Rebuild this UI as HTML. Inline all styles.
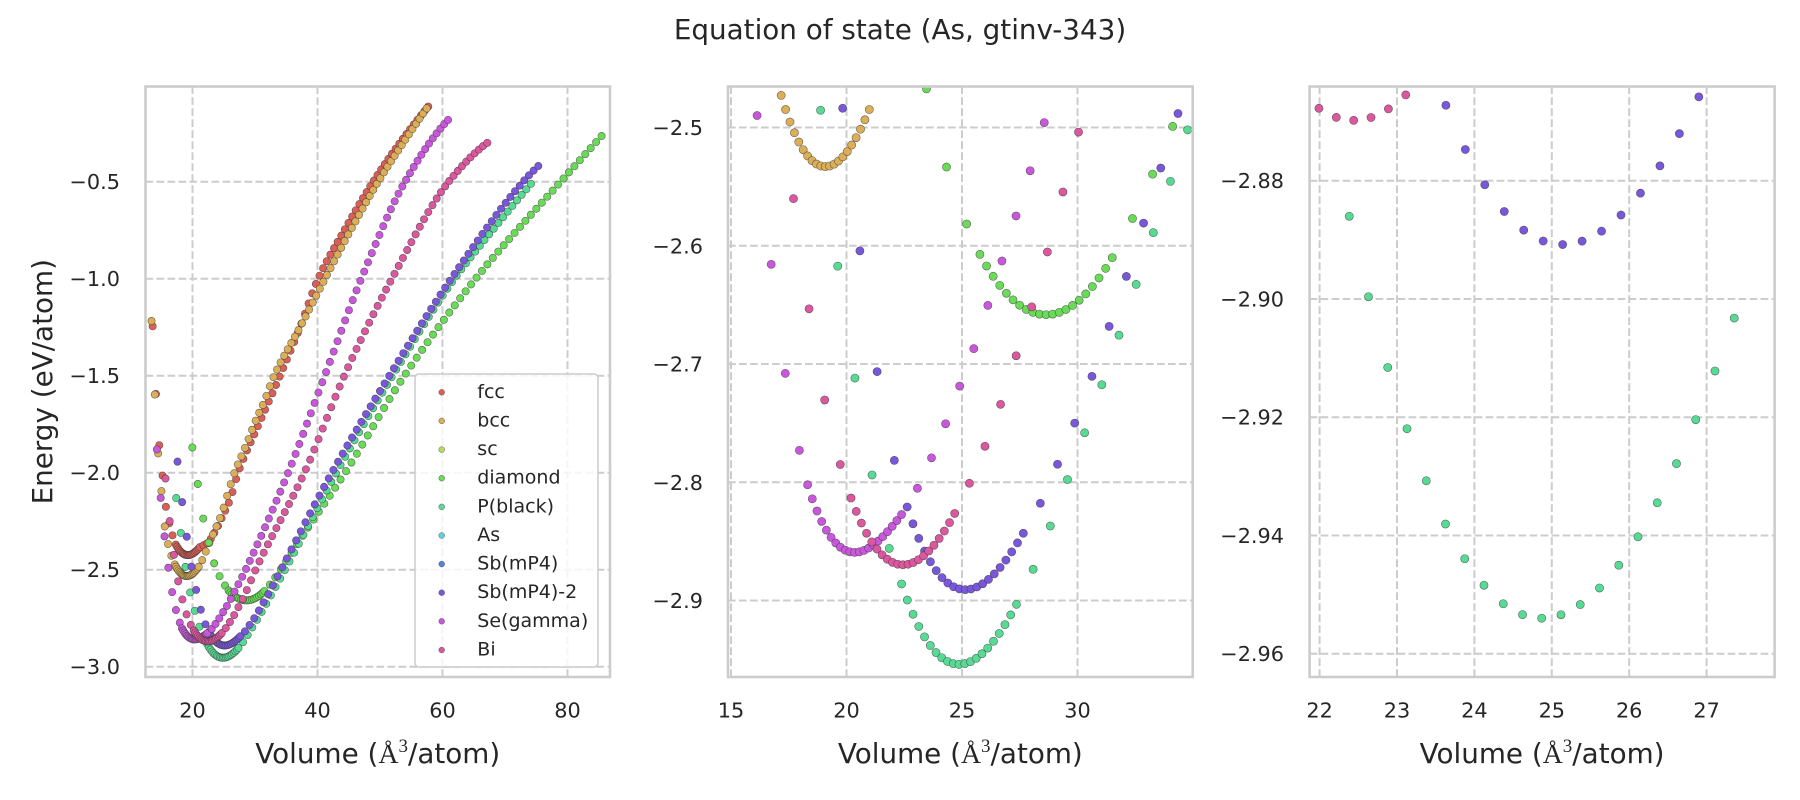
<!DOCTYPE html>
<html><head><meta charset="utf-8">
<style>
html,body{margin:0;padding:0;background:#fff;}
svg{display:block;}
text{font-family:"DejaVu Sans","Liberation Sans",sans-serif;fill:#262626;}
</style></head><body>
<svg id="fig" width="1800" height="800" viewBox="0 0 1800 800" xmlns="http://www.w3.org/2000/svg">
<defs>
<clipPath id="c1"><rect x="145.5" y="86.5" width="464.5" height="590.5"/></clipPath>
<clipPath id="c2"><rect x="728" y="86.5" width="464.7" height="590.5"/></clipPath>
<clipPath id="c3"><rect x="1309.6" y="86.5" width="465" height="590.5"/></clipPath>
</defs>
<rect width="1800" height="800" fill="#fff"/>

<!-- grids -->
<g stroke="#cccccc" stroke-width="2" stroke-dasharray="7.7 3.3" fill="none">
<!-- panel 1 -->
<line x1="192.5" y1="677" x2="192.5" y2="86.5"/>
<line x1="317.5" y1="677" x2="317.5" y2="86.5"/>
<line x1="442.5" y1="677" x2="442.5" y2="86.5"/>
<line x1="567.5" y1="677" x2="567.5" y2="86.5"/>
<line x1="145.5" y1="181.7" x2="610" y2="181.7"/>
<line x1="145.5" y1="278.7" x2="610" y2="278.7"/>
<line x1="145.5" y1="375.7" x2="610" y2="375.7"/>
<line x1="145.5" y1="472.7" x2="610" y2="472.7"/>
<line x1="145.5" y1="569.7" x2="610" y2="569.7"/>
<line x1="145.5" y1="666.7" x2="610" y2="666.7"/>
<!-- panel 2 -->
<line x1="731" y1="677" x2="731" y2="86.5"/>
<line x1="846.5" y1="677" x2="846.5" y2="86.5"/>
<line x1="962" y1="677" x2="962" y2="86.5"/>
<line x1="1077.5" y1="677" x2="1077.5" y2="86.5"/>
<line x1="728" y1="127.5" x2="1192.7" y2="127.5"/>
<line x1="728" y1="245.75" x2="1192.7" y2="245.75"/>
<line x1="728" y1="364" x2="1192.7" y2="364"/>
<line x1="728" y1="482.25" x2="1192.7" y2="482.25"/>
<line x1="728" y1="600.5" x2="1192.7" y2="600.5"/>
<!-- panel 3 -->
<line x1="1319.6" y1="677" x2="1319.6" y2="86.5"/>
<line x1="1397" y1="677" x2="1397" y2="86.5"/>
<line x1="1474.4" y1="677" x2="1474.4" y2="86.5"/>
<line x1="1551.8" y1="677" x2="1551.8" y2="86.5"/>
<line x1="1629.2" y1="677" x2="1629.2" y2="86.5"/>
<line x1="1706.6" y1="677" x2="1706.6" y2="86.5"/>
<line x1="1309.6" y1="180.7" x2="1774.6" y2="180.7"/>
<line x1="1309.6" y1="299" x2="1774.6" y2="299"/>
<line x1="1309.6" y1="417.2" x2="1774.6" y2="417.2"/>
<line x1="1309.6" y1="535.5" x2="1774.6" y2="535.5"/>
<line x1="1309.6" y1="653.7" x2="1774.6" y2="653.7"/>
</g>

<g id="g1" clip-path="url(#c1)"></g>
<g id="g2" clip-path="url(#c2)"></g>
<g id="g3" clip-path="url(#c3)"></g>

<!-- spines -->
<g fill="none" stroke="#cccccc" stroke-width="2.6">
<rect x="145.5" y="86.5" width="464.5" height="590.5"/>
<rect x="728" y="86.5" width="464.7" height="590.5"/>
<rect x="1309.6" y="86.5" width="465" height="590.5"/>
</g>

<!-- tick labels -->
<g font-size="20.8" text-anchor="end">
<text x="120" y="189.2">−0.5</text>
<text x="120" y="286.2">−1.0</text>
<text x="120" y="383.2">−1.5</text>
<text x="120" y="480.2">−2.0</text>
<text x="120" y="577.2">−2.5</text>
<text x="120" y="674.2">−3.0</text>
<text x="703" y="135">−2.5</text>
<text x="703" y="253.3">−2.6</text>
<text x="703" y="371.5">−2.7</text>
<text x="703" y="489.8">−2.8</text>
<text x="703" y="608">−2.9</text>
<text x="1284" y="188.2">−2.88</text>
<text x="1284" y="306.5">−2.90</text>
<text x="1284" y="424.7">−2.92</text>
<text x="1284" y="543">−2.94</text>
<text x="1284" y="661.2">−2.96</text>
</g>
<g font-size="20.8" text-anchor="middle">
<text x="192.5" y="717.5">20</text>
<text x="317.5" y="717.5">40</text>
<text x="442.5" y="717.5">60</text>
<text x="567.5" y="717.5">80</text>
<text x="731" y="717.5">15</text>
<text x="846.5" y="717.5">20</text>
<text x="962" y="717.5">25</text>
<text x="1077.5" y="717.5">30</text>
<text x="1319.6" y="717.5">22</text>
<text x="1397" y="717.5">23</text>
<text x="1474.4" y="717.5">24</text>
<text x="1551.8" y="717.5">25</text>
<text x="1629.2" y="717.5">26</text>
<text x="1706.6" y="717.5">27</text>
</g>

<!-- axis labels -->
<g font-size="27.8" text-anchor="middle">
<text x="377.75" y="763">Volume (<tspan font-family="Liberation Serif, DejaVu Serif, serif">Å</tspan><tspan font-family="Liberation Serif, DejaVu Serif, serif" font-size="19" dy="-11">3</tspan><tspan dy="11">/atom)</tspan></text>
<text x="960.35" y="763">Volume (<tspan font-family="Liberation Serif, DejaVu Serif, serif">Å</tspan><tspan font-family="Liberation Serif, DejaVu Serif, serif" font-size="19" dy="-11">3</tspan><tspan dy="11">/atom)</tspan></text>
<text x="1542.1" y="763">Volume (<tspan font-family="Liberation Serif, DejaVu Serif, serif">Å</tspan><tspan font-family="Liberation Serif, DejaVu Serif, serif" font-size="19" dy="-11">3</tspan><tspan dy="11">/atom)</tspan></text>
<text transform="translate(52,381.75) rotate(-90)">Energy (eV/atom)</text>
<text x="900" y="39">Equation of state (As, gtinv-343)</text>
</g>

<!-- legend -->
<g id="legend">
<rect x="415" y="374" width="183" height="293" rx="4" ry="4" fill="#ffffff" fill-opacity="0.8" stroke="#cccccc" stroke-width="1.5"/>
<g stroke="#3a3a3a" stroke-width="0.4">
<circle cx="441.7" cy="392.3" r="2.9" fill="#db5f57"/>
<circle cx="441.7" cy="420.9" r="2.9" fill="#dbae57"/>
<circle cx="441.7" cy="449.6" r="2.9" fill="#b9db57"/>
<circle cx="441.7" cy="478.2" r="2.9" fill="#69db57"/>
<circle cx="441.7" cy="506.8" r="2.9" fill="#57db94"/>
<circle cx="441.7" cy="535.5" r="2.9" fill="#57d3db"/>
<circle cx="441.7" cy="564.1" r="2.9" fill="#5784db"/>
<circle cx="441.7" cy="592.7" r="2.9" fill="#7957db"/>
<circle cx="441.7" cy="621.3" r="2.9" fill="#c957db"/>
<circle cx="441.7" cy="650" r="2.9" fill="#db579e"/>
</g>
<g font-size="19">
<text x="477.3" y="397.8">fcc</text>
<text x="477.3" y="426.4">bcc</text>
<text x="477.3" y="455.1">sc</text>
<text x="477.3" y="483.7">diamond</text>
<text x="477.3" y="512.3">P(black)</text>
<text x="477.3" y="541">As</text>
<text x="477.3" y="569.6">Sb(mP4)</text>
<text x="477.3" y="598.2">Sb(mP4)-2</text>
<text x="477.3" y="626.8">Se(gamma)</text>
<text x="477.3" y="655.5">Bi</text>
</g>
</g>
</svg>
<script>
(function(){
function endSlope(h0,h1,d0,d1){
  var m=((2*h0+h1)*d0-h0*d1)/(h0+h1);
  if((m>0)!==(d0>0)) m=0;
  else if(((d0>0)!==(d1>0)) && Math.abs(m)>Math.abs(3*d0)) m=3*d0;
  return m;
}
function pchip(xs,ys){
  var n=xs.length,h=[],d=[],m=new Array(n),i;
  for(i=0;i<n-1;i++){h[i]=xs[i+1]-xs[i];d[i]=(ys[i+1]-ys[i])/h[i];}
  for(i=1;i<n-1;i++){
    if(d[i-1]*d[i]<=0) m[i]=0;
    else{var w1=2*h[i]+h[i-1],w2=h[i]+2*h[i-1];m[i]=(w1+w2)/(w1/d[i-1]+w2/d[i]);}
  }
  m[0]=endSlope(h[0],h[1],d[0],d[1]);
  m[n-1]=endSlope(h[n-2],h[n-3],d[n-2],d[n-3]);
  return function(x){
    if(x<=xs[0]) return ys[0]+m[0]*(x-xs[0]);
    if(x>=xs[n-1]) return ys[n-1]+m[n-1]*(x-xs[n-1]);
    var k=0; while(k<n-2 && x>xs[k+1]) k++;
    var t=(x-xs[k])/h[k],t2=t*t,t3=t2*t;
    return (2*t3-3*t2+1)*ys[k]+(t3-2*t2+t)*h[k]*m[k]+(-2*t3+3*t2)*ys[k+1]+(t3-t2)*h[k]*m[k+1];
  };
}
var S=[
 {c:'#db5f57',V0:19.25,E0:-2.425,a:0.013,b:-0.0009,
  L:[[13.64,-1.26],[14.16,-1.60],[14.69,-1.862],[15.33,-2.049],[15.76,-2.18],[16.6,-2.30]],
  R:[[22.3,-2.365],[23.5,-2.31],[24.8,-2.225],[26.0,-2.14],[27.3,-2.0],[30.6,-1.75],[34,-1.5],[37.2,-1.25],[40.1,-1.0],[44.3,-0.75],[48.9,-0.5],[53.4,-0.29],[57.9,-0.106]],
  VL1:16.8,sL:0.53,Vmin:13.6,VR1:21.76,sR:0.58,Vmax:57.95},
 {c:'#dbae57',V0:19.08,E0:-2.5331,a:0.01491,b:-0.000856,
  L:[[13.44,-1.218],[14.0,-1.616],[14.53,-1.914],[15.13,-2.129],[15.55,-2.275],[16.17,-2.378]],
  R:[[21.57,-2.45],[22.21,-2.40],[23.33,-2.314],[24.56,-2.221],[25.63,-2.111],[26.69,-2.003],[27.97,-1.905],[29.09,-1.817],[30.16,-1.728],[31.33,-1.645],[33.0,-1.505],[37.2,-1.25],[41.2,-1.0],[45.3,-0.75],[49.7,-0.5],[53.5,-0.31],[57.3,-0.13]],
  VL1:16.62,sL:0.53,Vmin:13.4,VR1:21.56,sR:0.57,Vmax:57.5},
 {c:'#69db57',V0:28.64,E0:-2.6583,a:0.00605,b:-0.000058,
  L:[[19.98,-1.87],[20.93,-2.075],[21.73,-2.238],[22.64,-2.367],[23.44,-2.4655],[24.32,-2.5328],[25.2,-2.5816]],
  R:[[32.38,-2.577],[34.1,-2.50],[37.5,-2.33],[44.4,-2.0],[53.9,-1.5],[65.3,-1.0],[78.9,-0.5],[86,-0.245]],
  VL1:25.2,sL:0.87,Vmin:19.9,VR1:32.38,sR:0.87,Vmax:86},
 {c:'#57db94',V0:24.87,E0:-2.954,a:0.0096,b:-0.00056,
  L:[[17.39,-2.13],[18.2,-2.326],[18.87,-2.4838],[19.61,-2.6156],[20.38,-2.7138],[21.11,-2.7941],[21.85,-2.8559]],
  R:[[28.08,-2.8736],[29.56,-2.798],[31.08,-2.716],[32.55,-2.632],[33.28,-2.589],[34.8,-2.5],[43.0,-2.0],[52.0,-1.5],[61.9,-1.0],[68,-0.75],[74.7,-0.49]],
  VL1:21.85,sL:0.743,Vmin:17.3,VR1:28.08,sR:0.743,Vmax:74.8},
 {c:'#7957db',V0:25.14,E0:-2.8908,a:0.0093,b:-0.0007,
  L:[[17.6,-1.943],[18.35,-2.153],[19.09,-2.33],[19.82,-2.481],[20.6,-2.6073],[21.33,-2.707],[22.07,-2.7815]],
  R:[[28.39,-2.8178],[29.13,-2.785],[29.86,-2.751],[30.64,-2.7096],[31.38,-2.6676],[32.16,-2.6233],[33.9,-2.516],[42.3,-2.0],[51.5,-1.5],[61.4,-1.0],[72.9,-0.5],[75.3,-0.42]],
  VL1:22.07,sL:0.745,Vmin:17.5,VR1:28.39,sR:0.745,Vmax:75.4},
 {c:'#c957db',V0:20.35,E0:-2.8593,a:0.01077,b:-0.00149,
  L:[[14.3,-1.88],[14.94,-2.141],[15.55,-2.337],[16.14,-2.4922],[16.74,-2.6157],[17.35,-2.7079],[17.96,-2.773]],
  R:[[23.07,-2.8051],[23.67,-2.7798],[24.28,-2.751],[24.88,-2.7197],[25.53,-2.6859],[26.14,-2.6492],[26.73,-2.6129],[27.34,-2.5748],[27.96,-2.5359],[35.3,-2.0],[41.5,-1.47],[47.0,-1.0],[54.0,-0.5],[61.0,-0.178]],
  VL1:17.96,sL:0.61,Vmin:14.25,VR1:23.07,sR:0.61,Vmax:61.3},
 {c:'#db579e',V0:22.44,E0:-2.8698,a:0.00991,b:-0.00058,
  L:[[15.68,-2.03],[16.5,-2.29],[17.68,-2.556],[18.39,-2.6546],[19.04,-2.729],[19.73,-2.785]],
  R:[[25.32,-2.8009],[26.01,-2.7688],[26.7,-2.7324],[27.35,-2.6927],[28.04,-2.6504],[28.69,-2.6056],[30.1,-2.50],[37.9,-2.0],[44.7,-1.47],[51.9,-1.0],[61.0,-0.5],[67.2,-0.299]],
  VL1:19.73,sL:0.675,Vmin:15.6,VR1:25.32,sR:0.675,Vmax:67.5}
];
var P=[
 {g:'g1',x0:192.5,vx:20,sx:6.25,y0:181.7,ey:-0.5,sy:194,r:3.7,xmin:145.5,xmax:610,ymin:86.5,ymax:677},
 {g:'g2',x0:846.5,vx:20,sx:23.1,y0:127.5,ey:-2.5,sy:1182.5,r:4.1,xmin:728,xmax:1192.7,ymin:86.5,ymax:677},
 {g:'g3',x0:1319.6,vx:22,sx:77.4,y0:180.7,ey:-2.88,sy:5912,r:4.1,xmin:1309.6,xmax:1774.6,ymin:86.5,ymax:677}
];
var NS='http://www.w3.org/2000/svg';
S.forEach(function(s){
  var h=s.V0*0.1;
  function cub(V){var d=V-s.V0;return s.E0+s.a*d*d+s.b*d*d*d;}
  var xs=[],ys=[];
  s.L.forEach(function(p){xs.push(p[0]);ys.push(p[1]);});
  [-h,-h/2,0,h/2,h].forEach(function(d){xs.push(s.V0+d);ys.push(cub(s.V0+d));});
  s.R.forEach(function(p){xs.push(p[0]);ys.push(p[1]);});
  var f=pchip(xs,ys);
  function E(V){return Math.abs(V-s.V0)<=h+1e-9?cub(V):f(V);}
  var vs=[],V;
  for(V=s.VL1;V>=s.Vmin-1e-9;V-=s.sL) vs.push(V);
  for(var j=-10;j<=10;j++) vs.push(s.V0*(1+0.01*j));
  for(V=s.VR1;V<=s.Vmax+1e-9;V+=s.sR) vs.push(V);
  vs.sort(function(a,b){return a-b;});
  s.pts=vs.map(function(v){return [v,E(v)];});
});
P.forEach(function(p){
  var g=document.getElementById(p.g);
  S.forEach(function(s){
    s.pts.forEach(function(pt){
      var x=p.x0+(pt[0]-p.vx)*p.sx, y=p.y0+(p.ey-pt[1])*p.sy;
      if(x<p.xmin-p.r-1||x>p.xmax+p.r+1||y<p.ymin-p.r-1||y>p.ymax+p.r+1) return;
      var c=document.createElementNS(NS,'circle');
      c.setAttribute('cx',x.toFixed(2));
      c.setAttribute('cy',y.toFixed(2));
      c.setAttribute('r',p.r);
      c.setAttribute('fill',s.c);
      c.setAttribute('stroke','#333333');
      c.setAttribute('stroke-opacity','0.75');
      c.setAttribute('stroke-width','0.55');
      g.appendChild(c);
    });
  });
});
})();
</script>
</body></html>
